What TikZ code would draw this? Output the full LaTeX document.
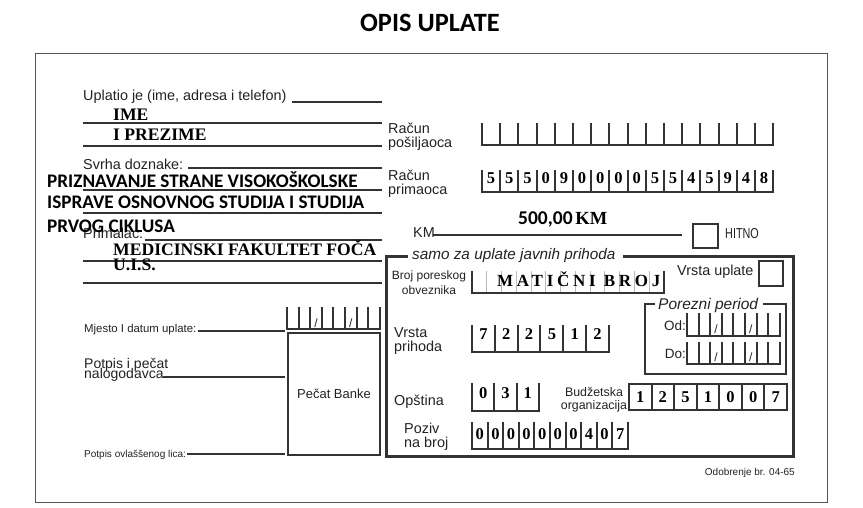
\documentclass[tikz,border=0pt]{standalone}
\usepackage{fontspec}
\setmainfont{Liberation Sans}
\newfontfamily\calibrifont{Carlito}
\newfontfamily\romanfont{Liberation Serif}
\definecolor{linegray}{HTML}{333333}
\definecolor{framegray}{HTML}{555555}
\definecolor{labelgray}{HTML}{222222}
\tikzset{
 formline/.style={draw=linegray, line width=1.6pt},
 combline/.style={draw=linegray, line width=2pt},
 lbl/.style={inner sep=0pt, anchor=base west, text=labelgray, font=\fontsize{14.4}{14}\selectfont},
 handfill/.style={inner sep=0pt, anchor=base west, font=\calibrifont\bfseries\fontsize{19.2}{19}\selectfont},
 typefill/.style={inner sep=0pt, anchor=base west, font=\romanfont\bfseries\fontsize{17.6}{17}\selectfont},
 digit/.style={inner sep=0pt, anchor=base, font=\romanfont\bfseries\fontsize{16.5}{16}\selectfont},
}
% comb of boxes: x, top, bottom, cells, cell width
\newcommand\combrow[5]{%
 \draw[combline] (#1,#2) -- (#1,#3) -- ({#1+#4*#5},#3) -- ({#1+#4*#5},#2);
 \foreach \k in {1,...,#4} \draw[combline] ({#1+\k*#5},#2) -- ({#1+\k*#5},#3);
}
% date comb: x, top, bottom, baseline of slashes
\newcommand\datecomb[4]{%
 \combrow{#1}{#2}{#3}{8}{11.6}
 \foreach \c in {3,6} \node[lbl, anchor=base, font=\fontsize{12}{12}\selectfont] at ({#1+(\c-0.5)*11.6},#4) {/};
}

\begin{document}
\begin{tikzpicture}[x=1pt,y=-1pt]
\useasboundingbox (0,0) rectangle (863,507);
\node[anchor=base, inner sep=0pt, font=\calibrifont\bfseries\fontsize{26.4}{26}\selectfont] (title) at (430,31) {OPIS UPLATE};
\draw[draw=framegray, line width=1pt] (35,53) rectangle (827,502);

% payer, purpose, payee
\node[lbl] (uplatio) at (83,100) {Uplatio je (ime, adresa i telefon)};
\foreach \y/\x in {102/292, 123/83, 146/83, 168/188, 190/83, 213/83, 240/145, 261/83, 283/83}
  \draw[formline] (\x,\y) -- (382,\y);
\node[lbl] (svrha) at (83,169) {Svrha doznake:};
\node[lbl] (primalac) at (83,238) {Primalac:};
\node[typefill] (ime) at (113,120) {IME};
\node[typefill] (prezime) at (113,140) {I PREZIME};
\node[handfill] (svrha1) at (47,187) {PRIZNAVANJE STRANE VISOKOŠKOLSKE};
\node[handfill] (svrha2) at (47,208) {ISPRAVE OSNOVNOG STUDIJA I STUDIJA};
\node[handfill] (svrha3) at (47,232) {PRVOG CIKLUSA};
\node[typefill] (fakultet) at (113,255) {MEDICINSKI FAKULTET FOČA};
\node[typefill] (uis) at (113,270) {U.I.S.};

% accounts
\node[lbl] (racun1) at (388,133) {Račun};
\node[lbl] (posiljaoca) at (388,147) {pošiljaoca};
\combrow{482}{123}{145}{16}{18.2}
\node[lbl] (racun2) at (388,180) {Račun};
\node[lbl] (primaoca) at (388,194) {primaoca};
\combrow{482}{170}{192}{16}{18.2}
\foreach \d [count=\i] in {5,5,5,0,9,0,0,0,0,5,5,4,5,9,4,8}
  \node[digit] at ({482+(\i-0.5)*18.2},183) {\d};

% amount
\node[lbl] (km) at (413,237) {KM};
\draw[formline] (433,235) -- (682,235);
\node[anchor=base west, inner sep=0pt] (iznos) at (518,224) {{\calibrifont\bfseries\fontsize{19.5}{19}\selectfont 500,00} {\romanfont\bfseries\fontsize{18.5}{18}\selectfont KM}};
\draw[combline] (693,224) rectangle (718,248);
\node[lbl] (hitno) at (725,238) {\scalebox{0.75}[1]{HITNO}};

% public revenue
\draw[draw=linegray, line width=3pt] (408,256) -- (386,256) -- (386,456) -- (793,456) -- (793,256) -- (623,256);
\node[lbl, font=\itshape\fontsize{15.3}{15}\selectfont] (javni) at (412,259) {samo za uplate javnih prihoda};
\node[lbl, anchor=base, font=\fontsize{12}{12}\selectfont] (broj1) at (429,279) {Broj poreskog};
\node[lbl, anchor=base, font=\fontsize{12}{12}\selectfont] (broj2) at (429,294) {obveznika};
\draw[combline] (472,271) -- (472,293) -- (664,293) -- (664,271);
\foreach \k in {1,...,12} \draw[gray!55, line width=1pt] ({472+\k*14.77},271) -- ({472+\k*14.77},292);
\node[typefill, font=\romanfont\bfseries\fontsize{17}{17}\selectfont\addfontfeature{LetterSpace=22}] (maticni) at (497,286) {MATIČNI BROJ};
\node[lbl] (vrstaupl) at (677,275) {Vrsta uplate};
\draw[combline] (759,261) rectangle (783,286);

\draw[combline] (655,304) -- (645,304) -- (645,374) -- (786,374) -- (786,304) -- (763,304);
\node[lbl, font=\itshape\fontsize{15.5}{15}\selectfont] (period) at (658,309) {Porezni period};
\node[lbl, anchor=base east, font=\fontsize{13.5}{13}\selectfont] (od) at (686,330) {Od:};
\datecomb{687}{313}{336}{333}
\node[lbl, anchor=base east, font=\fontsize{13.5}{13}\selectfont] (do) at (686,358) {Do:};
\datecomb{687}{342}{364}{361}

\node[lbl] (vrsta1) at (394,337) {Vrsta};
\node[lbl] (vrsta2) at (394,351) {prihoda};
\combrow{472}{325}{352}{6}{22.83}
\foreach \d [count=\i] in {7,2,2,5,1,2}
  \node[digit] at ({472+(\i-0.5)*22.83},339) {\d};

\node[lbl] (opstina) at (394,405) {Opština};
\combrow{472}{383}{411}{3}{22.33}
\foreach \d [count=\i] in {0,3,1}
  \node[digit] at ({472+(\i-0.5)*22.33},398) {\d};

\node[lbl, anchor=base, font=\fontsize{12.4}{12}\selectfont] (budz1) at (594,396) {Budžetska};
\node[lbl, anchor=base, font=\fontsize{12.4}{12}\selectfont] (budz2) at (594,409) {organizacija};
\draw[combline] (629,384) rectangle (787,410);
\foreach \k in {1,...,6} \draw[combline] ({629+\k*22.57},384) -- ({629+\k*22.57},410);
\foreach \d [count=\i] in {1,2,5,1,0,0,7}
  \node[digit] at ({629+(\i-0.5)*22.57},402) {\d};

\node[lbl] (poziv1) at (404,433) {Poziv};
\node[lbl] (poziv2) at (404,447) {na broj};
\combrow{472}{422}{449}{10}{15.6}
\foreach \d [count=\i] in {0,0,0,0,0,0,0,4,0,7}
  \node[digit] at ({472+(\i-0.5)*15.6},439) {\d};

\node[lbl, anchor=base east, font=\fontsize{10}{10}\selectfont] (odobrenje) at (795,475) {Odobrenje br. 04-65};

% place, date, signatures
\node[lbl, font=\fontsize{11.4}{11}\selectfont] (mjesto) at (84,332) {Mjesto I datum uplate:};
\draw[formline] (198,331) -- (285,331);
\datecomb{287}{307}{329}{327}
\draw[combline] (288,333) rectangle (380,455);
\node[lbl, anchor=center, font=\fontsize{13}{13}\selectfont] (pecat) at (334,394) {Pečat Banke};
\node[lbl, font=\fontsize{14}{14}\selectfont] (potpis1) at (84,368) {Potpis i pečat};
\node[lbl, font=\fontsize{14}{14}\selectfont] (potpis2) at (84,378) {nalogodavca};
\draw[formline] (163,377) -- (285,377);
\node[lbl, font=\fontsize{10}{10}\selectfont] (ovlasceni) at (84,457) {Potpis ovlaššenog lica:};
\draw[formline] (187,454) -- (285,454);
\end{tikzpicture}
\end{document}
